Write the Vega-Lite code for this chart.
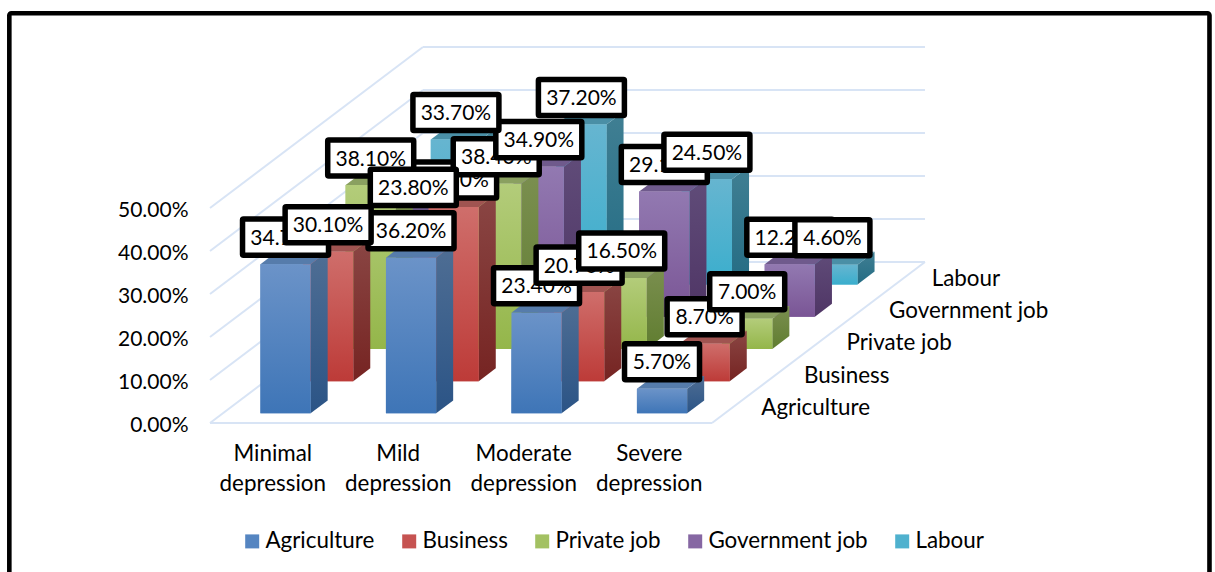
{
  "$schema": "https://vega.github.io/schema/vega-lite/v6.json",
  "width": 1215,
  "height": 572,
  "padding": 0,
  "autosize": "none",
  "background": "white",
  "config": {"view": {"stroke": null}, "text": {"font": "Lato", "fontSize": 22.4, "color": "#000000"}},
  "datasets": {
    "bars": [
      {"severity": "Minimal depression", "job": "Agriculture", "value": 0.347},
      {"severity": "Mild depression", "job": "Agriculture", "value": 0.362},
      {"severity": "Moderate depression", "job": "Agriculture", "value": 0.234},
      {"severity": "Severe depression", "job": "Agriculture", "value": 0.057},
      {"severity": "Minimal depression", "job": "Business", "value": 0.301},
      {"severity": "Mild depression", "job": "Business", "value": 0.405},
      {"severity": "Moderate depression", "job": "Business", "value": 0.207},
      {"severity": "Severe depression", "job": "Business", "value": 0.087},
      {"severity": "Minimal depression", "job": "Private job", "value": 0.381},
      {"severity": "Mild depression", "job": "Private job", "value": 0.384},
      {"severity": "Moderate depression", "job": "Private job", "value": 0.165},
      {"severity": "Severe depression", "job": "Private job", "value": 0.07},
      {"severity": "Minimal depression", "job": "Government job", "value": 0.238},
      {"severity": "Mild depression", "job": "Government job", "value": 0.349},
      {"severity": "Moderate depression", "job": "Government job", "value": 0.291},
      {"severity": "Severe depression", "job": "Government job", "value": 0.122},
      {"severity": "Minimal depression", "job": "Labour", "value": 0.337},
      {"severity": "Mild depression", "job": "Labour", "value": 0.372},
      {"severity": "Moderate depression", "job": "Labour", "value": 0.245},
      {"severity": "Severe depression", "job": "Labour", "value": 0.046}
    ],
    "levels": [{"level": 0}, {"level": 0.1}, {"level": 0.2}, {"level": 0.3}, {"level": 0.4}, {"level": 0.5}],
    "severities": [
      {"severity": "Minimal depression", "c": 0},
      {"severity": "Mild depression", "c": 1},
      {"severity": "Moderate depression", "c": 2},
      {"severity": "Severe depression", "c": 3}
    ],
    "jobs": [
      {"job": "Agriculture", "d": 0},
      {"job": "Business", "d": 1},
      {"job": "Private job", "d": 2},
      {"job": "Government job", "d": 3},
      {"job": "Labour", "d": 4}
    ]
  },
  "data": {"name": "bars"},
  "transform": [
    {"calculate": "indexof(['Minimal depression','Mild depression','Moderate depression','Severe depression'], datum.severity)", "as": "c"},
    {"calculate": "indexof(['Agriculture','Business','Private job','Government job','Labour'], datum.job)", "as": "d"},
    {"calculate": "['front','side','top','box']", "as": "face"},
    {"flatten": ["face"]},
    {"calculate": "[0,1]", "as": "edge"},
    {"flatten": ["edge"]},
    {"calculate": "datum.c + 0.3 + (datum.d + 0.3) * 0.3394", "as": "xf"},
    {"calculate": "datum.xf + 0.4", "as": "xr"},
    {"calculate": "(datum.d + 0.3) * 0.0749", "as": "yb"},
    {"calculate": "datum.yb + datum.value", "as": "yt"},
    {"calculate": "datum.edge * 0.1358", "as": "ex"},
    {"calculate": "datum.edge * 0.03", "as": "ey"},
    {"calculate": "datum.xf + 0.2", "as": "cx"},
    {"calculate": "datum.yt + 0.0628", "as": "cy"},
    {"calculate": "datum.value < 0.1 ? 0.2988 : 0.3426", "as": "hw"},
    {"calculate": "datum.face === 'front' ? datum.xf : datum.face === 'side' ? datum.xr + datum.ex : datum.face === 'top' ? datum.xf + datum.ex : datum.cx - datum.hw", "as": "X"},
    {"calculate": "datum.face === 'front' ? datum.xr : datum.face === 'top' ? datum.xr + datum.ex : datum.cx + datum.hw", "as": "X2"},
    {"calculate": "datum.face === 'front' ? datum.yb : datum.face === 'side' ? datum.yb + datum.ey : datum.face === 'top' ? datum.yt + datum.ey : datum.cy - 0.0419", "as": "Y"},
    {"calculate": "datum.face === 'front' ? datum.yt : datum.face === 'side' ? datum.yt + datum.ey : datum.cy + 0.0419", "as": "Y2"},
    {"calculate": "format(datum.value, '.2%')", "as": "label"}
  ],
  "encoding": {
    "x": {"field": "X", "type": "quantitative", "stack": null, "axis": null, "scale": {"domain": [-1.6733, 8.008], "nice": false, "zero": false}},
    "y": {
      "field": "Y", "type": "quantitative", "stack": null,
      "scale": {"domain": [-0.3465, 0.9837], "nice": false, "zero": false},
      "axis": {
        "title": null, "orient": "left", "offset": -188, "domain": false, "ticks": false, "tickSize": 0, "grid": false,
        "labelPadding": 0, "labelOffset": 2.5, "values": [0, 0.1, 0.2, 0.3, 0.4, 0.5], "format": ".2%",
        "labelFont": "Lato", "labelFontSize": 21, "labelColor": "#000000", "labelFlush": false, "labelOverlap": false
      }
    }
  },
  "layer": [
    {
      "data": {"values": [{"frame": "outer"}]},
      "transform": [
        {"calculate": "-1.599", "as": "X"}, {"calculate": "7.964", "as": "X2"},
        {"calculate": "0.9528", "as": "Y"}, {"calculate": "-0.4116", "as": "Y2"}
      ],
      "mark": {"type": "rect", "fill": "transparent", "stroke": "#000000", "strokeWidth": 4.6, "cornerRadius": 2},
      "encoding": {"x2": {"field": "X2"}, "y2": {"field": "Y2"}}
    },
    {
      "data": {"name": "levels"},
      "transform": [
        {"calculate": "1.697", "as": "X"}, {"calculate": "5.697", "as": "X2"},
        {"calculate": "datum.level + 0.3745", "as": "Y"}, {"calculate": "datum.Y", "as": "Y2"}
      ],
      "mark": {"type": "rule", "color": "#d8e4f5", "strokeWidth": 2},
      "encoding": {"x2": {"field": "X2"}, "y2": {"field": "Y2"}}
    },
    {
      "data": {"name": "levels"},
      "transform": [
        {"calculate": "0", "as": "X"}, {"calculate": "1.697", "as": "X2"},
        {"calculate": "datum.level", "as": "Y"}, {"calculate": "datum.level + 0.3745", "as": "Y2"}
      ],
      "mark": {"type": "rule", "color": "#d8e4f5", "strokeWidth": 2},
      "encoding": {"x2": {"field": "X2"}, "y2": {"field": "Y2"}}
    },
    {
      "data": {"values": [{"edge": "front", "X": 0, "X2": 4, "Y": 0, "Y2": 0}, {"edge": "right", "X": 4, "X2": 5.697, "Y": 0, "Y2": 0.3745}]},
      "mark": {"type": "rule", "color": "#d8e4f5", "strokeWidth": 2},
      "encoding": {"x2": {"field": "X2"}, "y2": {"field": "Y2"}}
    },

    {"transform": [{"filter": "datum.face === 'front' && datum.edge === 0"}], "mark": {"type": "rect"}, "encoding": {"x2": {"field": "X2"}, "y2": {"field": "Y2"}, "color": {
      "field": "job", "type": "nominal",
      "scale": {
        "domain": ["Agriculture", "Business", "Private job", "Government job", "Labour"],
        "range": ["#5585c1", "#c65351", "#a3c162", "#8667a3", "#4fb1ce"]
      },
      "legend": {
        "title": null, "orient": "none", "legendX": 241, "legendY": 530, "direction": "horizontal", "columns": 5,
        "symbolType": "square", "symbolSize": 196, "symbolStrokeWidth": 0, "columnPadding": 23, "labelOffset": 2,
        "labelFont": "Lato", "labelFontSize": 22.4, "labelColor": "#000000", "labelLimit": 300
      }
    }}},

    {"transform": [{"filter": "datum.job === 'Labour' && datum.face === 'side'"}], "mark": {"type": "area", "color": {"gradient": "linear", "x1": 0, "y1": 0, "x2": 0, "y2": 1, "stops": [{"offset": 0, "color": "#407f93"}, {"offset": 1, "color": "#246c84"}]}}, "encoding": {"y2": {"field": "Y2"}, "detail": {"field": "severity"}}},
    {"transform": [{"filter": "datum.job === 'Labour' && datum.face === 'top'"}], "mark": {"type": "area", "orient": "horizontal", "color": "#4a8fa6"}, "encoding": {"x2": {"field": "X2"}, "detail": {"field": "severity"}}},
    {"transform": [{"filter": "datum.job === 'Labour' && datum.face === 'front' && datum.edge === 0"}], "mark": {"type": "rect", "color": {"gradient": "linear", "x1": 0, "y1": 0, "x2": 0, "y2": 1, "stops": [{"offset": 0, "color": "#66b5d0"}, {"offset": 1, "color": "#3aaecd"}]}}, "encoding": {"x2": {"field": "X2"}, "y2": {"field": "Y2"}}},

    {"transform": [{"filter": "datum.job === 'Government job' && datum.face === 'side'"}], "mark": {"type": "area", "color": {"gradient": "linear", "x1": 0, "y1": 0, "x2": 0, "y2": 1, "stops": [{"offset": 0, "color": "#604c79"}, {"offset": 1, "color": "#4f3565"}]}}, "encoding": {"y2": {"field": "Y2"}, "detail": {"field": "severity"}}},
    {"transform": [{"filter": "datum.job === 'Government job' && datum.face === 'top'"}], "mark": {"type": "area", "orient": "horizontal", "color": "#6f5a8c"}, "encoding": {"x2": {"field": "X2"}, "detail": {"field": "severity"}}},
    {"transform": [{"filter": "datum.job === 'Government job' && datum.face === 'front' && datum.edge === 0"}], "mark": {"type": "rect", "color": {"gradient": "linear", "x1": 0, "y1": 0, "x2": 0, "y2": 1, "stops": [{"offset": 0, "color": "#9279b1"}, {"offset": 1, "color": "#7a5595"}]}}, "encoding": {"x2": {"field": "X2"}, "y2": {"field": "Y2"}}},

    {"transform": [{"filter": "datum.job === 'Private job' && datum.face === 'side'"}], "mark": {"type": "area", "color": {"gradient": "linear", "x1": 0, "y1": 0, "x2": 0, "y2": 1, "stops": [{"offset": 0, "color": "#7b8f50"}, {"offset": 1, "color": "#607d30"}]}}, "encoding": {"y2": {"field": "Y2"}, "detail": {"field": "severity"}}},
    {"transform": [{"filter": "datum.job === 'Private job' && datum.face === 'top'"}], "mark": {"type": "area", "orient": "horizontal", "color": "#8aa060"}, "encoding": {"x2": {"field": "X2"}, "detail": {"field": "severity"}}},
    {"transform": [{"filter": "datum.job === 'Private job' && datum.face === 'front' && datum.edge === 0"}], "mark": {"type": "rect", "color": {"gradient": "linear", "x1": 0, "y1": 0, "x2": 0, "y2": 1, "stops": [{"offset": 0, "color": "#b3cc7a"}, {"offset": 1, "color": "#94b64a"}]}}, "encoding": {"x2": {"field": "X2"}, "y2": {"field": "Y2"}}},

    {"transform": [{"filter": "datum.job === 'Business' && datum.face === 'side'"}], "mark": {"type": "area", "color": {"gradient": "linear", "x1": 0, "y1": 0, "x2": 0, "y2": 1, "stops": [{"offset": 0, "color": "#8a4644"}, {"offset": 1, "color": "#762422"}]}}, "encoding": {"y2": {"field": "Y2"}, "detail": {"field": "severity"}}},
    {"transform": [{"filter": "datum.job === 'Business' && datum.face === 'top'"}], "mark": {"type": "area", "orient": "horizontal", "color": "#a05451"}, "encoding": {"x2": {"field": "X2"}, "detail": {"field": "severity"}}},
    {"transform": [{"filter": "datum.job === 'Business' && datum.face === 'front' && datum.edge === 0"}], "mark": {"type": "rect", "color": {"gradient": "linear", "x1": 0, "y1": 0, "x2": 0, "y2": 1, "stops": [{"offset": 0, "color": "#cf6e6b"}, {"offset": 1, "color": "#bd3b38"}]}}, "encoding": {"x2": {"field": "X2"}, "y2": {"field": "Y2"}}},

    {"transform": [{"filter": "datum.job === 'Agriculture' && datum.face === 'side'"}], "mark": {"type": "area", "color": {"gradient": "linear", "x1": 0, "y1": 0, "x2": 0, "y2": 1, "stops": [{"offset": 0, "color": "#4f6e94"}, {"offset": 1, "color": "#2b5486"}]}}, "encoding": {"y2": {"field": "Y2"}, "detail": {"field": "severity"}}},
    {"transform": [{"filter": "datum.job === 'Agriculture' && datum.face === 'top'"}], "mark": {"type": "area", "orient": "horizontal", "color": "#567cab"}, "encoding": {"x2": {"field": "X2"}, "detail": {"field": "severity"}}},
    {"transform": [{"filter": "datum.job === 'Agriculture' && datum.face === 'front' && datum.edge === 0"}], "mark": {"type": "rect", "color": {"gradient": "linear", "x1": 0, "y1": 0, "x2": 0, "y2": 1, "stops": [{"offset": 0, "color": "#6b93c8"}, {"offset": 1, "color": "#3e75b7"}]}}, "encoding": {"x2": {"field": "X2"}, "y2": {"field": "Y2"}}},

    {
      "data": {"name": "severities"},
      "transform": [{"calculate": "datum.c + 0.5", "as": "X"}, {"calculate": "-0.0721", "as": "Y"}],
      "mark": {"type": "text", "lineBreak": " ", "lineHeight": 30, "align": "center", "baseline": "middle"},
      "encoding": {"text": {"field": "severity"}}
    },
    {
      "data": {"name": "jobs"},
      "transform": [{"calculate": "4 + (datum.d + 0.5) * 0.3394", "as": "X"}, {"calculate": "(datum.d + 0.5) * 0.0749", "as": "Y"}],
      "mark": {"type": "text", "align": "left", "baseline": "middle", "dx": 28, "dy": 1},
      "encoding": {"text": {"field": "job"}}
    },

    {"transform": [{"filter": "datum.job === 'Agriculture' && datum.face === 'box' && datum.edge === 0"}], "mark": {"type": "rect", "fill": "white", "stroke": "#000000", "strokeWidth": 5.5, "cornerRadius": 1}, "encoding": {"x2": {"field": "X2"}, "y2": {"field": "Y2"}}},
    {"transform": [{"filter": "datum.job === 'Agriculture' && datum.face === 'box' && datum.edge === 0"}, {"calculate": "datum.cx", "as": "X"}, {"calculate": "datum.cy", "as": "Y"}], "mark": {"type": "text", "align": "center", "baseline": "middle", "fontSize": 21, "dy": 1.5}, "encoding": {"text": {"field": "label"}}},
    {"transform": [{"filter": "datum.job === 'Business' && datum.face === 'box' && datum.edge === 0"}], "mark": {"type": "rect", "fill": "white", "stroke": "#000000", "strokeWidth": 5.5, "cornerRadius": 1}, "encoding": {"x2": {"field": "X2"}, "y2": {"field": "Y2"}}},
    {"transform": [{"filter": "datum.job === 'Business' && datum.face === 'box' && datum.edge === 0"}, {"calculate": "datum.cx", "as": "X"}, {"calculate": "datum.cy", "as": "Y"}], "mark": {"type": "text", "align": "center", "baseline": "middle", "fontSize": 21, "dy": 1.5}, "encoding": {"text": {"field": "label"}}},
    {"transform": [{"filter": "datum.job === 'Private job' && datum.face === 'box' && datum.edge === 0"}], "mark": {"type": "rect", "fill": "white", "stroke": "#000000", "strokeWidth": 5.5, "cornerRadius": 1}, "encoding": {"x2": {"field": "X2"}, "y2": {"field": "Y2"}}},
    {"transform": [{"filter": "datum.job === 'Private job' && datum.face === 'box' && datum.edge === 0"}, {"calculate": "datum.cx", "as": "X"}, {"calculate": "datum.cy", "as": "Y"}], "mark": {"type": "text", "align": "center", "baseline": "middle", "fontSize": 21, "dy": 1.5}, "encoding": {"text": {"field": "label"}}},
    {"transform": [{"filter": "datum.job === 'Government job' && datum.face === 'box' && datum.edge === 0"}], "mark": {"type": "rect", "fill": "white", "stroke": "#000000", "strokeWidth": 5.5, "cornerRadius": 1}, "encoding": {"x2": {"field": "X2"}, "y2": {"field": "Y2"}}},
    {"transform": [{"filter": "datum.job === 'Government job' && datum.face === 'box' && datum.edge === 0"}, {"calculate": "datum.cx", "as": "X"}, {"calculate": "datum.cy", "as": "Y"}], "mark": {"type": "text", "align": "center", "baseline": "middle", "fontSize": 21, "dy": 1.5}, "encoding": {"text": {"field": "label"}}},
    {"transform": [{"filter": "datum.job === 'Labour' && datum.face === 'box' && datum.edge === 0"}], "mark": {"type": "rect", "fill": "white", "stroke": "#000000", "strokeWidth": 5.5, "cornerRadius": 1}, "encoding": {"x2": {"field": "X2"}, "y2": {"field": "Y2"}}},
    {"transform": [{"filter": "datum.job === 'Labour' && datum.face === 'box' && datum.edge === 0"}, {"calculate": "datum.cx", "as": "X"}, {"calculate": "datum.cy", "as": "Y"}], "mark": {"type": "text", "align": "center", "baseline": "middle", "fontSize": 21, "dy": 1.5}, "encoding": {"text": {"field": "label"}}}
  ]
}
